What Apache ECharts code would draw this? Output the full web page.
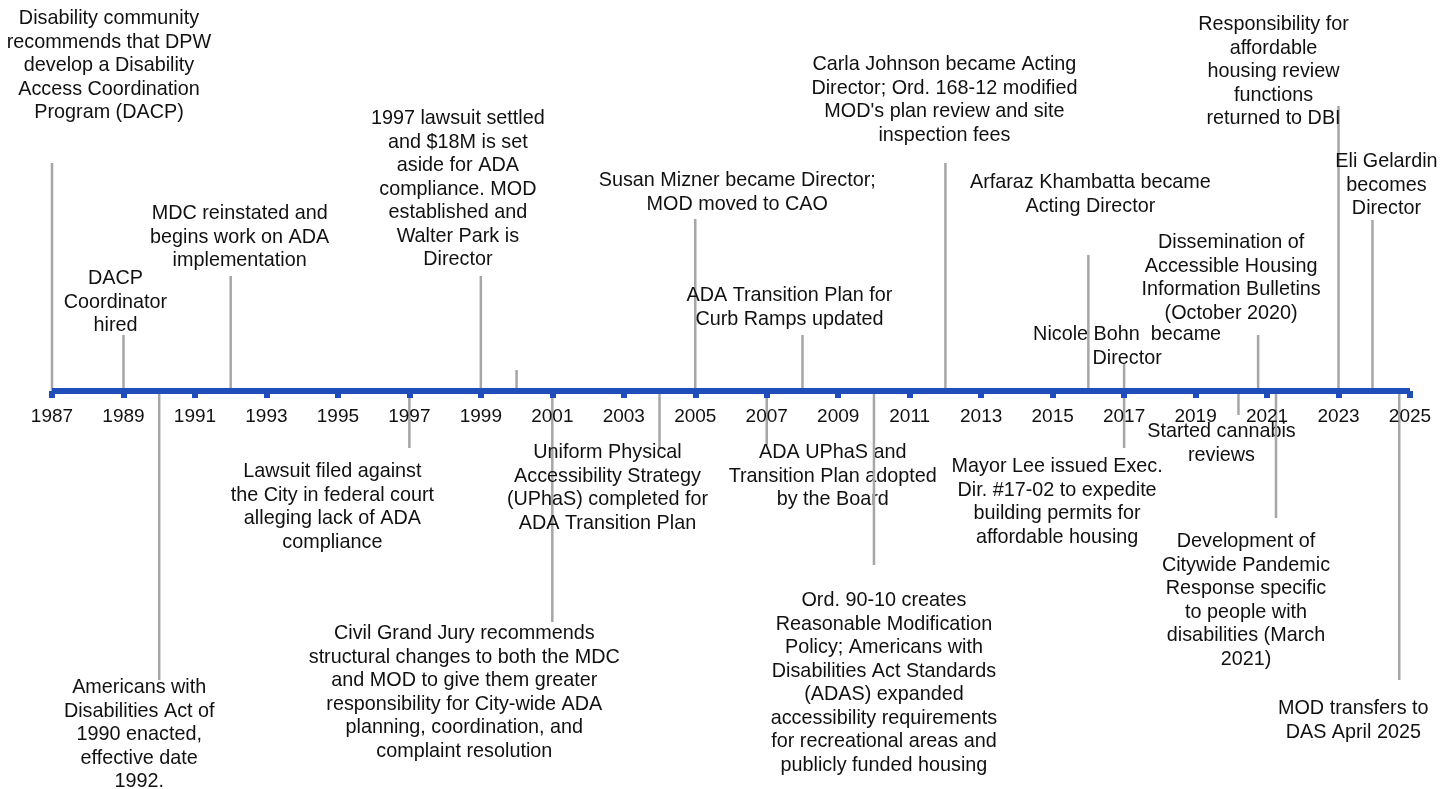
<!DOCTYPE html>
<html>
<head>
<meta charset="utf-8">
<script src="https://cdn.jsdelivr.net/npm/echarts@6/dist/echarts.min.js"></script>
<style>
html,body{margin:0;padding:0;background:#fff;}
#chart{width:1455px;height:789px;}
</style>
</head>
<body>
<div id="chart"></div>
<script>
// ---- data ----
const eventYears = [
  1987, 1989, 1992, 1999, 2000, 2005, 2008, 2012, 2016, 2017, 2020.75, 2023, 2023.95,
  1990, 1997, 2001, 2004, 2007, 2010, 2017, 2020.2, 2021.25, 2024.7
];
// stem length above (+) / below (-) the axis, in axis units
const stemHeights = [
  228, 56, 115, 115, 21, 172, 56, 228, 136, 28, 56, 285, 171,
  -289, -57, -231, -57, -54, -174, -57, -24, -127, -289
];
const eventTexts = [
  "Disability community\nrecommends that DPW\ndevelop a Disability\nAccess Coordination\nProgram (DACP)",
  "DACP\nCoordinator\nhired",
  "MDC reinstated and\nbegins work on ADA\nimplementation",
  "1997 lawsuit settled\nand $18M is set\naside for ADA\ncompliance. MOD\nestablished and\nWalter Park is\nDirector",
  "",
  "Susan Mizner became Director;\nMOD moved to CAO",
  "ADA Transition Plan for\nCurb Ramps updated",
  "Carla Johnson became Acting\nDirector; Ord. 168-12 modified\nMOD's plan review and site\ninspection fees",
  "Arfaraz Khambatta became\nActing Director",
  "Nicole Bohn  became\nDirector",
  "Dissemination of\nAccessible Housing\nInformation Bulletins\n(October 2020)",
  "Responsibility for\naffordable\nhousing review\nfunctions\nreturned to DBI",
  "Eli Gelardin\nbecomes\nDirector",
  "Americans with\nDisabilities Act of\n1990 enacted,\neffective date\n1992.",
  "Lawsuit filed against\nthe City in federal court\nalleging lack of ADA\ncompliance",
  "Civil Grand Jury recommends\nstructural changes to both the MDC\nand MOD to give them greater\nresponsibility for City-wide ADA\nplanning, coordination, and\ncomplaint resolution",
  "Uniform Physical\nAccessibility Strategy\n(UPhaS) completed for\nADA Transition Plan",
  "ADA UPhaS and\nTransition Plan adopted\nby the Board",
  "Ord. 90-10 creates\nReasonable Modification\nPolicy; Americans with\nDisabilities Act Standards\n(ADAS) expanded\naccessibility requirements\nfor recreational areas and\npublicly funded housing",
  "Mayor Lee issued Exec.\nDir. #17-02 to expedite\nbuilding permits for\naffordable housing",
  "Started cannabis\nreviews",
  "Development of\nCitywide Pandemic\nResponse specific\nto people with\ndisabilities (March\n2021)",
  "MOD transfers to\nDAS April 2025"
];
const axisMin = 1987, axisMax = 2025, axisStep = 2;

// ---- layout (pixel offsets of each label's top-centre from its stem end) ----
const labelOffsets = [
  [57, -156], [-8, -68], [9, -74], [-23, -169], [0, 0], [42, -50], [-13, -51],
  [-1, -110], [2, -84], [3, -40], [-27, -104], [-65, -93], [14, -70],
  [-20, -4], [-77, 12], [-88, 0], [-52, -7], [66, -4], [10, 24], [-67, 7],
  [-17, 5], [-30, 12], [-46, 17]
];

const FAMILY = '"Liberation Sans", Arial, sans-serif';
const FONT = '19.8px ' + FAMILY;
const LH = 23.5;

const chart = echarts.init(document.getElementById('chart'), null, {renderer: 'canvas'});
const seriesData = eventYears.map((y, i) => [y, stemHeights[i], i]);

chart.setOption({
  animation: false,
  backgroundColor: '#ffffff',
  grid: {left: 52, right: 45, top: 0, bottom: 398, containLabel: false, outerBoundsMode: 'none'},
  xAxis: {
    type: 'value', min: axisMin, max: axisMax, interval: axisStep, z: 5,
    axisLine: {show: true, onZero: false, lineStyle: {color: '#1F4EBA', width: 6, cap: 'butt'}},
    axisTick: {show: true, length: 7, lineStyle: {color: '#1F4EBA', width: 6}},
    axisLabel: {fontSize: 19, fontFamily: FAMILY, color: '#111', margin: 16, lineHeight: 20,
      formatter: function (v) { return String(v); }},
    splitLine: {show: false}
  },
  yAxis: {type: 'value', min: 0, max: 391, show: false, splitLine: {show: false}},
  series: [{
    type: 'custom',
    z: 2,
    clip: false,
    data: seriesData,
    renderItem: function (params, api) {
      const yr = api.value(0), h = api.value(1), idx = api.value(2);
      const base = api.coord([yr, 0]);
      const end = api.coord([yr, h]);
      const children = [{
        type: 'line',
        shape: {x1: base[0], y1: base[1], x2: end[0], y2: end[1]},
        style: {stroke: '#A6A6A6', lineWidth: 2.5}
      }];
      const txt = eventTexts[idx];
      if (txt) {
        const off = labelOffsets[idx];
        children.push({
          type: 'text',
          style: {
            text: txt, x: end[0] + off[0], y: end[1] + off[1],
            align: 'center', verticalAlign: 'top',
            font: FONT, lineHeight: LH, fill: '#111'
          }
        });
      }
      return {type: 'group', children: children};
    }
  }]
});
</script>
</body>
</html>
